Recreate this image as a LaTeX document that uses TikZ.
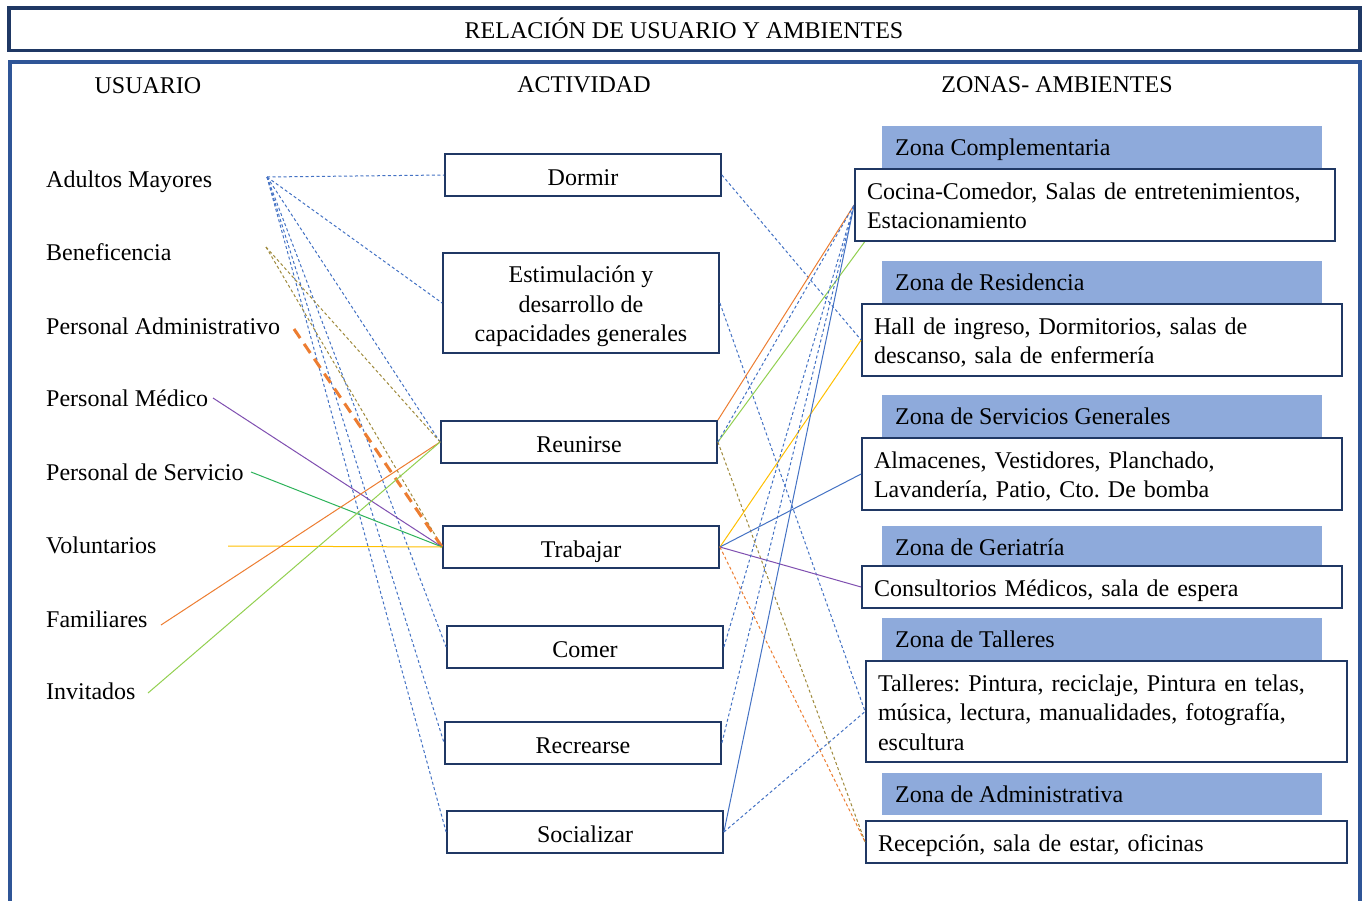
\documentclass[tikz,border=0pt]{standalone}
\usepackage{fontspec}
\setmainfont{Liberation Serif}
\frenchspacing
\definecolor{navy}{HTML}{1F3864}
\definecolor{framebl}{HTML}{2F5597}
\definecolor{boxline}{HTML}{203864}
\definecolor{zonefill}{HTML}{8EAADB}
\definecolor{lnblue}{HTML}{4472C4}
\definecolor{lnolive}{HTML}{9F8A3C}
\definecolor{lnorange}{HTML}{ED7D31}
\definecolor{lnpurple}{HTML}{7F4FB0}
\definecolor{lngreen}{HTML}{2DB35A}
\definecolor{lnyellow}{HTML}{FFC000}
\definecolor{lnlime}{HTML}{92D050}
% struts that fix where a line of text sits inside its node
\newcommand\lblstrut{\rule[-5.5pt]{0pt}{27.6pt}}
\newcommand\boxstrut{\rule[-5.5pt]{0pt}{31.4pt}}
\newcommand\zonestrut{\rule[-5.4pt]{0pt}{29.2pt}}
\begin{document}
\begin{tikzpicture}[x=1pt,y=-1pt,
  font=\fontsize{24}{29.5}\selectfont,
  every node/.style={execute at begin node=\lblstrut, execute at end node=\lblstrut},
  actframe/.style={draw=boxline, line width=1.8pt, fill=white,
    minimum width=276pt, minimum height=42pt, inner sep=0pt, align=center},
  actbox/.style={actframe,
    execute at begin node=\boxstrut, execute at end node=\boxstrut},
  zonehead/.style={fill=zonefill, minimum width=440pt, minimum height=42pt, inner sep=0pt},
  headtext/.style={anchor=west, inner sep=0pt},
  zonebox/.style={draw=boxline, line width=1.8pt, fill=white, align=left,
    inner xsep=12pt, inner ysep=0pt,
    execute at begin node=\zonestrut, execute at end node=\zonestrut},
  userlbl/.style={anchor=west, inner sep=0pt},
  link/.style={line width=1pt},
  dlink/.style={line width=1pt, dash pattern=on 3pt off 2.5pt},
  thickdash/.style={line width=3pt, dash pattern=on 11pt off 7pt}]

\useasboundingbox (0,0) rectangle (1365,900);
\clip (0,0) rectangle (1365,900);
\fill[white] (0,0) rectangle (1365,900);

% frames
\draw[framebl, line width=4pt] (9.5,62) rectangle (1360,930);
\draw[navy, line width=3.5pt, fill=white] (9,8) rectangle (1360,50.5);
\node[inner sep=0pt] (title) at (684,30.5) {RELACIÓN DE USUARIO Y AMBIENTES};

% column headings
\node[inner sep=0pt] (hUser) at (148,85.5) {USUARIO};
\node[inner sep=0pt] (hAct) at (584,84.5) {ACTIVIDAD};
\node[inner sep=0pt] (hZone) at (1057,84.5) {ZONAS- AMBIENTES};

% users
\node[userlbl] (uAdult) at (46,179) {Adultos Mayores};
\node[userlbl] (uBenef) at (46,252) {Beneficencia};
\node[userlbl] (uAdmin) at (46,326) {Personal Administrativo};
\node[userlbl] (uMed)   at (46,398) {Personal Médico};
\node[userlbl] (uServ)  at (46,472) {Personal de Servicio};
\node[userlbl] (uVol)   at (46,545) {Voluntarios};
\node[userlbl] (uFam)   at (46,619) {Familiares};
\node[userlbl] (uInv)   at (46,691) {Invitados};

% line start points beside the user names
\coordinate (pAdult) at (267,177);
\coordinate (pBenef) at (266,247);
\coordinate (pAdmin) at (294,329);
\coordinate (pMed)   at (213,398);
\coordinate (pServ)  at (251,472);
\coordinate (pVol)   at (228,546);
\coordinate (pFam)   at (161,625);
\coordinate (pInv)   at (148,693);

% activities
\node[actbox] (aDorm) at (583,175) {Dormir};
\node[actframe, minimum height=100pt, text width=270pt, inner xsep=3pt,
  align=flush center,
  execute at begin node=\zonestrut, execute at end node=\zonestrut]
  (aEst) at (581,303) {Estimulación y\\desarrollo de\\capacidades generales};
\node[actbox] (aReu) at (579,442) {Reunirse};
\node[actbox] (aTrab) at (581,547) {Trabajar};
\node[actbox] (aCom) at (585,647) {Comer};
\node[actbox] (aRec) at (583,743) {Recrearse};
\node[actbox] (aSoc) at (585,832) {Socializar};

% zone headings
\node[zonehead] (zh1) at (1102,147) {};
\node[zonehead] (zh2) at (1102,282) {};
\node[zonehead] (zh3) at (1102,416) {};
\node[zonehead] (zh4) at (1102,547) {};
\node[zonehead] (zh5) at (1102,639) {};
\node[zonehead] (zh6) at (1102,794) {};
\node[headtext] (zt1) at (895,147) {Zona Complementaria};
\node[headtext] (zt2) at (895,282) {Zona de Residencia};
\node[headtext] (zt3) at (895,416) {Zona de Servicios Generales};
\node[headtext] (zt4) at (895,547) {Zona de Geriatría};
\node[headtext] (zt5) at (895,639) {Zona de Talleres};
\node[headtext] (zt6) at (895,794) {Zona de Administrativa};

% connectors: users to activities
\draw[dlink, lnblue] (pAdult) -- (aDorm.west);
\draw[dlink, lnblue] (pAdult) -- (aEst.west);
\draw[dlink, lnblue] (pAdult) -- (aReu.west);
\draw[dlink, lnblue] (pAdult) -- (aCom.west);
\draw[dlink, lnblue] (pAdult) -- (aRec.west);
\draw[dlink, lnblue] (pAdult) -- (aSoc.west);
\draw[dlink, lnolive] (pBenef) -- (aReu.west);
\draw[dlink, lnolive] (pBenef) -- (aTrab.west);
\draw[thickdash, lnorange] (pAdmin) -- (aTrab.west);
\draw[link, lnpurple] (pMed) -- (aTrab.west);
\draw[link, lngreen] (pServ) -- (aTrab.west);
\draw[link, lnyellow] (pVol) -- (aTrab.west);
\draw[link, lnorange] (pFam) -- (aReu.west);
\draw[link, lnlime] (pInv) -- (aReu.west);

% zone contents
\node[zonebox, text width=456pt, minimum height=72pt] (zb1) at (1095,205)
  {Cocina-Comedor, Salas de entretenimientos,\\Estacionamiento};
\node[zonebox, text width=456pt, minimum height=72pt] (zb2) at (1102,340)
  {Hall de ingreso, Dormitorios, salas de\\descanso, sala de enfermería};
\node[zonebox, text width=456pt, minimum height=72pt] (zb3) at (1102,474)
  {Almacenes, Vestidores, Planchado,\\Lavandería, Patio, Cto. De bomba};
\node[zonebox, text width=456pt, minimum height=42pt] (zb4) at (1102,587)
  {Consultorios Médicos, sala de espera};
\node[zonebox, text width=457pt, minimum height=101pt] (zb5) at (1106.5,711.5)
  {Talleres: Pintura, reciclaje, Pintura en telas,\\música, lectura, manualidades, fotografía,\\escultura};
\node[zonebox, text width=457pt, minimum height=42pt] (zb6) at (1106.5,842)
  {Recepción, sala de estar, oficinas};

% connectors: activities to zones
\coordinate (zb1low) at (866,240);
\draw[dlink, lnblue] (aDorm.east) -- (zb2.west);
\draw[dlink, lnblue] (aEst.east) -- (zb5.west);
\draw[link, lnorange] (aReu.north east) -- (zb1.west);
\draw[link, lnlime] (aReu.east) -- (zb1low);
\draw[dlink, lnblue] (aReu.east) -- (zb1.west);
\draw[dlink, lnolive] (aReu.east) -- (zb6.west);
\draw[link, lnyellow] (aTrab.east) -- (zb2.west);
\draw[link, lnblue] (aTrab.east) -- (zb3.west);
\draw[link, lnpurple] (aTrab.east) -- (zb4.west);
\draw[dlink, lnorange] (aTrab.east) -- (zb6.west);
\draw[dlink, lnblue] (aCom.east) -- (zb1.west);
\draw[dlink, lnblue] (aRec.east) -- (zb1.west);
\draw[link, lnblue] (aSoc.east) -- (zb1.west);
\draw[dlink, lnblue] (aSoc.east) -- (zb5.west);

% the first zone box again on top, so the lime line ends beneath its edge
\node[zonebox, text width=456pt, minimum height=72pt] at (1095,205)
  {Cocina-Comedor, Salas de entretenimientos,\\Estacionamiento};
\end{tikzpicture}
\end{document}
